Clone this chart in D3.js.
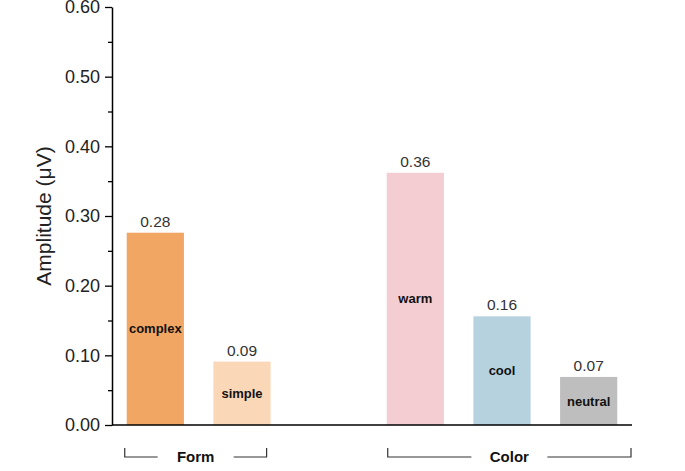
<!DOCTYPE html>
<meta charset="utf-8">
<style>
    body { margin: 0; background: #fff; }
    text { font-family: "Liberation Sans", Arial, sans-serif; }
</style>
<svg width="685" height="471"></svg>
<script src="https://d3js.org/d3.v7.min.js"></script>
<script>
    // chart data
    var categories = ["complex", "simple", "", "warm", "cool", "neutral"];
    var values = [0.276, 0.091, null, 0.362, 0.156, 0.069];
    var valueLabels = ["0.28", "0.09", "", "0.36", "0.16", "0.07"];
    var barColors = ["#F2A663", "#FAD7B6", "none", "#F4CDD2", "#B7D2DF", "#BEBEBE"];
    var groups = ["Form", "Color"];
    var groupMembers = [["complex", "simple"], ["warm", "cool", "neutral"]];
    var yTicks = [0, 0.1, 0.2, 0.3, 0.4, 0.5, 0.6];

    var svg = d3.select("svg");

    var x = d3.scaleBand()
        .domain(categories)
        .range([112, 632])
        .paddingInner(0.34)
        .paddingOuter(0.17);

    var y = d3.scaleLinear()
        .domain([0, 0.6])
        .range([425, 7]);

    // minor ticks
    svg.append("g")
        .attr("transform", "translate(112,0)")
        .call(d3.axisLeft(y).tickValues(d3.range(0.05, 0.6, 0.1)).tickSize(4).tickFormat(""))
        .call(function (g) { g.select(".domain").remove(); })
        .selectAll("line").attr("stroke", "#000").attr("stroke-width", 1.3);

    // y axis
    var yAxis = svg.append("g")
        .attr("transform", "translate(112,0)")
        .call(d3.axisLeft(y).tickValues(yTicks).tickSize(7).tickSizeOuter(0)
            .tickFormat(d3.format(".2f")));
    yAxis.select(".domain").attr("stroke", "#000").attr("stroke-width", 1.5);
    yAxis.selectAll(".tick line").attr("stroke", "#000").attr("stroke-width", 1.3);
    yAxis.selectAll(".tick text")
        .attr("font-size", 18)
        .attr("fill", "#222")
        .attr("x", -12)
        .attr("font-family", "Liberation Sans, Arial, sans-serif");

    // bars
    var data = categories.map(function (c, i) {
        return { cat: c, value: values[i], label: valueLabels[i], color: barColors[i] };
    }).filter(function (d) { return d.value != null; });

    svg.append("g").selectAll("rect")
        .data(data)
        .enter().append("rect")
        .attr("x", function (d) { return x(d.cat); })
        .attr("width", x.bandwidth())
        .attr("y", function (d) { return y(d.value); })
        .attr("height", function (d) { return y(0) - y(d.value); })
        .attr("fill", function (d) { return d.color; });

    // x axis line
    svg.append("line")
        .attr("x1", 112).attr("x2", x.range()[1])
        .attr("y1", y(0)).attr("y2", y(0))
        .attr("stroke", "#000").attr("stroke-width", 1.5);

    // value labels
    svg.append("g").selectAll("text")
        .data(data)
        .enter().append("text")
        .attr("x", function (d) { return x(d.cat) + x.bandwidth() / 2; })
        .attr("y", function (d) { return y(d.value) - 6; })
        .attr("text-anchor", "middle")
        .attr("font-size", 15.5)
        .attr("fill", "#333")
        .text(function (d) { return d.label; });

    // category names inside bars
    svg.append("g").selectAll("text")
        .data(data)
        .enter().append("text")
        .attr("x", function (d) { return x(d.cat) + x.bandwidth() / 2; })
        .attr("y", function (d) { return (y(d.value) + y(0)) / 2; })
        .attr("dy", "0.35em")
        .attr("text-anchor", "middle")
        .attr("font-size", 13)
        .attr("font-weight", "bold")
        .attr("fill", "#111")
        .text(function (d) { return d.cat; });

    // group brackets
    var by = 457;
    groups.forEach(function (name, i) {
        var m = groupMembers[i];
        var x0 = x(m[0]) - (i == 0 ? 2 : -1);
        var x1 = i == 0 ? x(m[m.length - 1]) + x.bandwidth() - 4 : x.range()[1] - 1;
        var cx = (x0 + x1) / 2;
        var g = svg.append("g");
        g.append("path")
            .attr("d", "M" + x0 + "," + (by - 9) + "V" + by + "H" + (cx - 38))
            .attr("fill", "none").attr("stroke", "#333").attr("stroke-width", 1.2);
        g.append("path")
            .attr("d", "M" + (cx + 38) + "," + by + "H" + x1 + "V" + (by - 9))
            .attr("fill", "none").attr("stroke", "#333").attr("stroke-width", 1.2);
        g.append("text")
            .attr("x", cx).attr("y", by)
            .attr("dy", "0.35em")
            .attr("text-anchor", "middle")
            .attr("font-size", 15)
            .attr("font-weight", "bold")
            .attr("fill", "#111")
            .text(name);
    });

    // y axis title
    svg.append("text")
        .attr("transform", "translate(51," + y(0.3) + ") rotate(-90)")
        .attr("text-anchor", "middle")
        .attr("font-size", 21)
        .attr("fill", "#222")
        .text("Amplitude (μV)");
</script>
